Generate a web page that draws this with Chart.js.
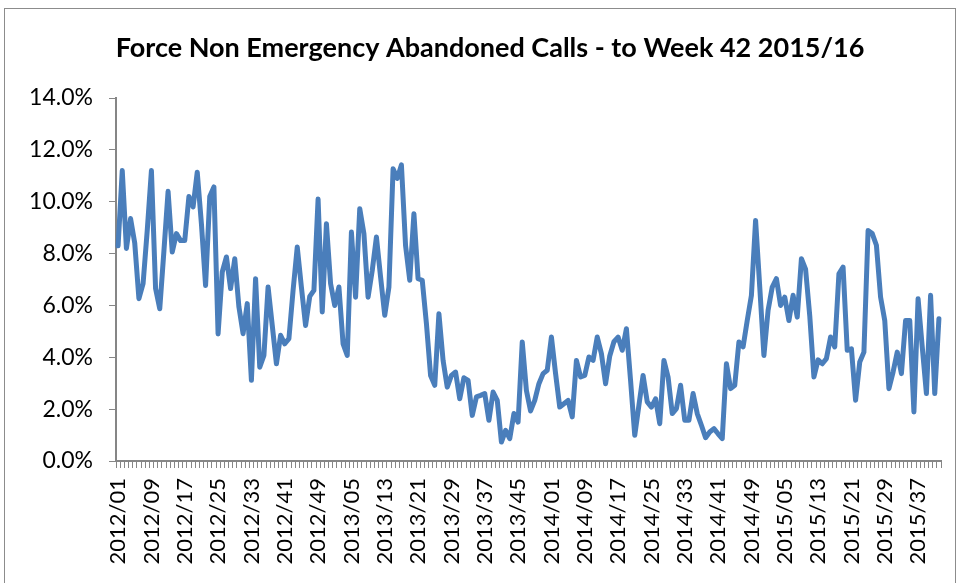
<!DOCTYPE html>
<html>
<head>
<meta charset="utf-8">
<script src="https://cdn.jsdelivr.net/npm/chart.js@4.4.1/dist/chart.umd.min.js"></script>
<style>
  html, body { margin: 0; padding: 0; background: #ffffff; }
  #wrap { position: relative; width: 960px; height: 583px; overflow: hidden; }
  #frame { position: absolute; left: 4px; top: 8px; width: 952px; height: 620px; border: 1px solid #8c8c8c; box-sizing: border-box; }
  canvas { position: absolute; left: 0; top: 0; }
</style>
</head>
<body>
<div id="wrap">
  <div id="frame"></div>
  <canvas id="c" width="960" height="583"></canvas>
</div>
<script>
const chartTitle = "Force Non Emergency Abandoned Calls - to Week 42 2015/16";
const years = [2012, 2013, 2014, 2015];
const weeksPerYear = [52, 52, 52, 42];

// Abandoned call rate (%) by week
const values2012 = [8.3, 11.2, 8.2, 9.35, 8.4, 6.26, 6.84, 8.9, 11.2, 6.65,
  5.87, 8.1, 10.4, 8.06, 8.77, 8.5, 8.5, 10.2, 9.8, 11.14,
  9.15, 6.77, 10.2, 10.57, 4.9, 7.29, 7.87, 6.65, 7.8, 5.94,
  4.91, 6.07, 3.11, 7.03, 3.62, 4.07, 6.71, 5.23, 3.75, 4.85,
  4.52, 4.72, 6.58, 8.25, 6.7, 5.23, 6.35, 6.58, 10.1, 5.75,
  9.15, 6.84];
const values2013 = [6.0, 6.71, 4.52, 4.07, 8.83, 6.32, 9.73, 8.77, 6.32, 7.35,
  8.64, 7.1, 5.62, 6.71, 11.27, 10.9, 11.42, 8.3, 6.97, 9.54,
  7.03, 6.97, 5.3, 3.3, 2.92, 5.68, 3.88, 2.85, 3.3, 3.43,
  2.4, 3.21, 3.11, 1.76, 2.47, 2.53, 2.6, 1.57, 2.66, 2.34,
  0.73, 1.18, 0.86, 1.83, 1.5, 4.59, 2.72, 1.93, 2.34, 2.98,
  3.37, 3.5];
const values2014 = [4.78, 3.37, 2.08, 2.21, 2.34, 1.7, 3.88, 3.24, 3.3, 4.01,
  3.88, 4.78, 4.14, 2.98, 4.05, 4.6, 4.78, 4.27, 5.1, 3.1,
  0.99, 2.15, 3.3, 2.28, 2.08, 2.4, 1.44, 3.88, 3.24, 1.83,
  2.02, 2.92, 1.57, 1.57, 2.6, 1.83, 1.38, 0.9, 1.12, 1.25,
  1.05, 0.86, 3.75, 2.79, 2.92, 4.59, 4.4, 5.42, 6.39, 9.28,
  6.71, 4.07];
const values2015 = [5.81, 6.71, 7.03, 6.0, 6.32, 5.42, 6.39, 5.55, 7.8, 7.4,
  5.6, 3.24, 3.9, 3.75, 3.95, 4.78, 4.4, 7.22, 7.48, 4.27,
  4.33, 2.34, 3.82, 4.2, 8.89, 8.77, 8.32, 6.32, 5.42, 2.79,
  3.43, 4.2, 3.37, 5.42, 5.42, 1.89, 6.26, 4.4, 2.6, 6.39,
  2.6, 5.49];

const yTicks = [0, 2, 4, 6, 8, 10, 12, 14];
const labelEvery = 8;

const categories = [];
years.forEach((y, k) => {
  for (let w = 1; w <= weeksPerYear[k]; w++) {
    categories.push(y + "/" + String(w).padStart(2, "0"));
  }
});
const seriesValues = [].concat(values2012, values2013, values2014, values2015);

const axisGrey = "#868686";
const lineBlue = "#4A7EBB";
const FONT = "Lato, 'Open Sans', sans-serif";

const titlePlugin = {
  id: "customTitle",
  afterDraw(chart) {
    const ctx = chart.ctx;
    ctx.save();
    ctx.font = "bold 27px " + FONT;
    ctx.fillStyle = "#000000";
    ctx.textAlign = "center";
    ctx.textBaseline = "middle";
    ctx.fillText(chartTitle, 490, 48);
    ctx.restore();
  }
};

new Chart(document.getElementById("c"), {
  type: "line",
  data: {
    labels: categories,
    datasets: [{
      data: seriesValues,
      borderColor: lineBlue,
      borderWidth: 5,
      pointRadius: 0,
      pointHoverRadius: 0,
      tension: 0,
      fill: false,
      borderJoinStyle: "round",
      borderCapStyle: "round"
    }]
  },
  options: {
    responsive: false,
    animation: false,
    events: [],
    layout: { padding: { top: 98, right: 19, left: 0, bottom: 0 } },
    plugins: {
      legend: { display: false },
      title: { display: false },
      tooltip: { enabled: false }
    },
    scales: {
      x: {
        type: "category",
        offset: true,
        grid: {
          offset: true,
          drawOnChartArea: false,
          drawTicks: true,
          tickLength: 7,
          color: axisGrey,
          lineWidth: 1
        },
        border: { display: true, color: axisGrey, width: 2 },
        ticks: {
          autoSkip: false,
          minRotation: 90,
          maxRotation: 90,
          padding: 10,
          color: "#000000",
          font: { family: FONT, size: 22 },
          callback: function(value, index) {
            return index % labelEvery === 0 ? categories[index] : "";
          }
        },
        afterFit(scale) {
          scale.height = 122;
          scale.paddingLeft = 0;
          scale.paddingRight = 0;
        }
      },
      y: {
        min: yTicks[0],
        max: yTicks[yTicks.length - 1],
        afterBuildTicks(scale) { scale.ticks = yTicks.map(v => ({ value: v })); },
        grid: {
          drawOnChartArea: false,
          drawTicks: true,
          tickLength: 7,
          color: axisGrey,
          lineWidth: 1
        },
        border: { display: true, color: axisGrey, width: 2 },
        ticks: {
          padding: 16,
          color: "#000000",
          font: { family: FONT, size: 23 },
          callback: function(value) { return Number(value).toFixed(1) + "%"; }
        },
        afterFit(scale) { scale.width = 116; }
      }
    }
  },
  plugins: [titlePlugin]
});
</script>
</body>
</html>
